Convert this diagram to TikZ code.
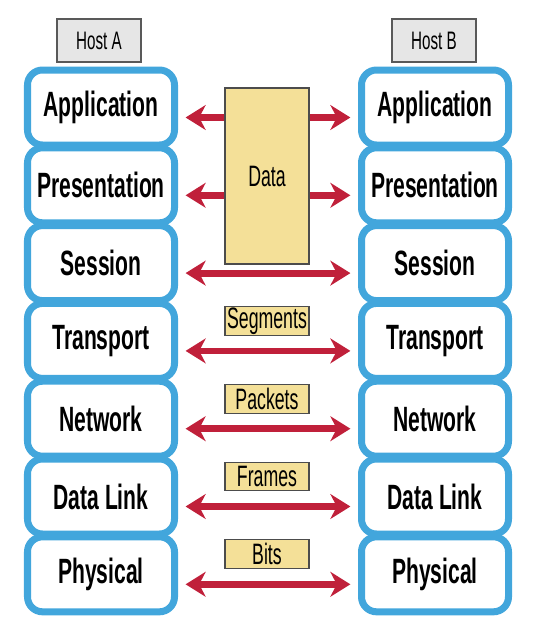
\documentclass[tikz,border=0pt]{standalone}
\usepackage{fontspec}
\setmainfont{Liberation Sans}[FakeStretch=0.6]
\usetikzlibrary{backgrounds,arrows.meta}
\definecolor{xblue}{RGB}{66,166,220}
\definecolor{xred}{RGB}{192,32,58}
\definecolor{xyellow}{RGB}{244,224,152}
\definecolor{xgray}{RGB}{230,230,230}

\begin{document}
\begin{tikzpicture}[
  layer/.style={draw=xblue, line width=0.175cm, rounded corners=0.375cm, fill=white,
    minimum width=3.675cm, minimum height=1.875cm, inner sep=0pt,
    font=\fontsize{25}{28}\selectfont\bfseries},
  host/.style={draw=black!65, line width=0.8pt, fill=xgray, minimum width=2.1cm,
    minimum height=1.075cm, inner sep=0pt, font=\fontsize{18}{20}\selectfont},
  pdu/.style={draw=black!70, line width=0.8pt, fill=xyellow, minimum width=2.1cm,
    minimum height=0.72cm, inner sep=0pt, font=\fontsize{21}{22}\selectfont},
  link/.style={draw=xred, line width=0.17cm, shorten >=0.19cm, -{Stealth[length=0.5cm, width=0.62cm, inset=0.16cm]},
    transform canvas={yshift=-0.25cm}},
  link2/.style={link, shorten <=0.19cm, {Stealth[length=0.5cm, width=0.62cm, inset=0.16cm]}-{Stealth[length=0.5cm, width=0.62cm, inset=0.16cm]}}
]
\useasboundingbox (0,0) rectangle (13.35,-15.9);
\def \n {1.945}
\def \y {2.6875}
\def \a {2.525}
\def \b {10.875}
\def \m {6.675}
% hosts
\node[host] at (2.475, -1.0125) (hostA) {Host A};
\node[host] at (10.85, -1.0125) (hostB) {Host B};
% left stack
\node[layer] at (\a, -\y) (appA) {Application};
\node[layer] at (\a, -\y-1*\n) (preA) {Presentation};
\node[layer] at (\a, -\y-2*\n) (sesA) {Session};
\node[layer] at (\a, -\y-3*\n) (traA) {Transport};
\node[layer] at (\a, -\y-4*\n) (netA) {Network};
\node[layer] at (\a, -\y-5*\n) (dllA) {Data Link};
\node[layer] at (\a, -\y-6*\n) (phyA) {Physical};
% right stack
\node[layer] at (\b, -\y) (appB) {Application};
\node[layer] at (\b, -\y-1*\n) (preB) {Presentation};
\node[layer] at (\b, -\y-2*\n) (sesB) {Session};
\node[layer] at (\b, -\y-3*\n) (traB) {Transport};
\node[layer] at (\b, -\y-4*\n) (netB) {Network};
\node[layer] at (\b, -\y-5*\n) (dllB) {Data Link};
\node[layer] at (\b, -\y-6*\n) (phyB) {Physical};
% data units
\node[pdu, minimum height=4.4cm] at (\m, -4.4) (data) {\raisebox{-0.18cm}{Data}};
\node[pdu] at (\m, -\y-3*\n+0.5) (seg) {Segments};
\node[pdu] at (\m, -\y-4*\n+0.5) (pkt) {Packets};
\node[pdu] at (\m, -\y-5*\n+0.5) (frm) {Frames};
\node[pdu] at (\m, -\y-6*\n+0.5) (bit) {Bits};
\begin{scope}[on background layer]
\draw[link] (data.west |- appA.east) -- (appA.east);
\draw[link] (data.east |- appB.west) -- (appB.west);
\draw[link] (data.west |- preA.east) -- (preA.east);
\draw[link] (data.east |- preB.west) -- (preB.west);
\draw[link2] (sesA.east) -- (sesB.west);
\draw[link2] (traA.east) -- (traB.west);
\draw[link2] (netA.east) -- (netB.west);
\draw[link2] (dllA.east) -- (dllB.west);
\draw[link2] (phyA.east) -- (phyB.west);
\end{scope}
\end{tikzpicture}
\end{document}
